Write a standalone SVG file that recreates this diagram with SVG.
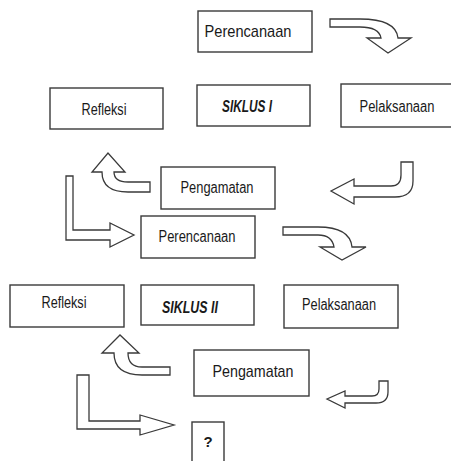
<svg xmlns="http://www.w3.org/2000/svg" width="451" height="461" viewBox="0 0 451 461">
<style>
.box{fill:#fff;stroke:#3a3a3a;stroke-width:1.4}
.arr{fill:#fff;stroke:#3a3a3a;stroke-width:1.3;stroke-linejoin:miter}
text{font-family:"Liberation Sans",Arial,sans-serif;font-size:16px;fill:#1a1a1a;text-anchor:middle}
.bi{font-weight:bold;font-style:italic;font-size:16px}
</style>
<rect width="451" height="461" fill="#fff"/>
<g id="connectors">
<path class="arr" d="M330,19 L360,19 Q396,19 398,38 L411,38 L388,53 L367,38 L381,38 Q379,27 360,27 L330,27 Z"/>
<path class="arr" d="M413,162 L413,181 Q413,197 395,197 L354,197 L354,204 L331,191 L354,179 L354,186 L391,186 Q401,186 401,175 L401,162 Z"/>
<path class="arr" d="M150,182 L128,182 Q114,182 114,172 L125,172 L108,153 L92,172 L102,172 Q102,192 128,192 L150,192 Z"/>
<path class="arr" d="M66,176 L73,176 L73,230 L110,230 L110,223 L134,235 L110,247 L110,240 L66,240 Z"/>
<path class="arr" d="M283,227 L318,227 Q350,227 352,247 L366,247 L342,260 L320,247 L334,247 Q332,235 318,235 L283,235 Z"/>
<path class="arr" d="M170,367 L142,367 Q128,367 128,353 L139,353 L120,335 L102,353 L114,353 Q114,375 142,375 L170,375 Z"/>
<path class="arr" d="M77,375 L89,375 L89,421 L140,421 L140,415 L174,425 L140,435 L140,429 L77,429 Z"/>
<path class="arr" d="M388,381 L388,392 Q388,403 376,403 L345,403 L345,408 L327,399 L345,391 L345,396 L372,396 Q379,396 379,389 L379,381 Z"/>
</g>
<g id="perencanaan1"><rect class="box" x="198" y="11" width="114" height="41"/><text x="248" y="37" style="font-size:17px" textLength="87" lengthAdjust="spacingAndGlyphs">Perencanaan</text></g>
<g id="refleksi1"><rect class="box" x="50" y="88" width="113" height="41"/><text x="104" y="115" textLength="45" lengthAdjust="spacingAndGlyphs">Refleksi</text></g>
<g id="siklus1"><rect class="box" x="197" y="85" width="113" height="41"/><text class="bi" x="247" y="112" textLength="50" lengthAdjust="spacingAndGlyphs">SIKLUS I</text></g>
<g id="pelaksanaan1"><rect class="box" x="341" y="84" width="120" height="43"/><text x="397" y="112" textLength="75" lengthAdjust="spacingAndGlyphs">Pelaksanaan</text></g>
<g id="pengamatan1"><rect class="box" x="161" y="167" width="114" height="42"/><text x="217" y="193" textLength="73" lengthAdjust="spacingAndGlyphs">Pengamatan</text></g>
<g id="perencanaan2"><rect class="box" x="141" y="216" width="114" height="42"/><text x="197" y="242" textLength="77" lengthAdjust="spacingAndGlyphs">Perencanaan</text></g>
<g id="refleksi2"><rect class="box" x="10" y="285" width="114" height="42"/><text x="64" y="308" textLength="45" lengthAdjust="spacingAndGlyphs">Refleksi</text></g>
<g id="siklus2"><rect class="box" x="141" y="285" width="113" height="40"/><text class="bi" x="190" y="313" textLength="56" lengthAdjust="spacingAndGlyphs">SIKLUS II</text></g>
<g id="pelaksanaan2"><rect class="box" x="284" y="285" width="114" height="43"/><text x="339" y="310" textLength="74" lengthAdjust="spacingAndGlyphs">Pelaksanaan</text></g>
<g id="pengamatan2"><rect class="box" x="194" y="350" width="115" height="46"/><text x="253" y="377" style="font-size:17px" textLength="81" lengthAdjust="spacingAndGlyphs">Pengamatan</text></g>
<g id="question"><rect class="box" x="192" y="422" width="32" height="45"/><text x="208" y="447" style="font-size:15px;font-weight:bold">?</text></g>
</svg>
